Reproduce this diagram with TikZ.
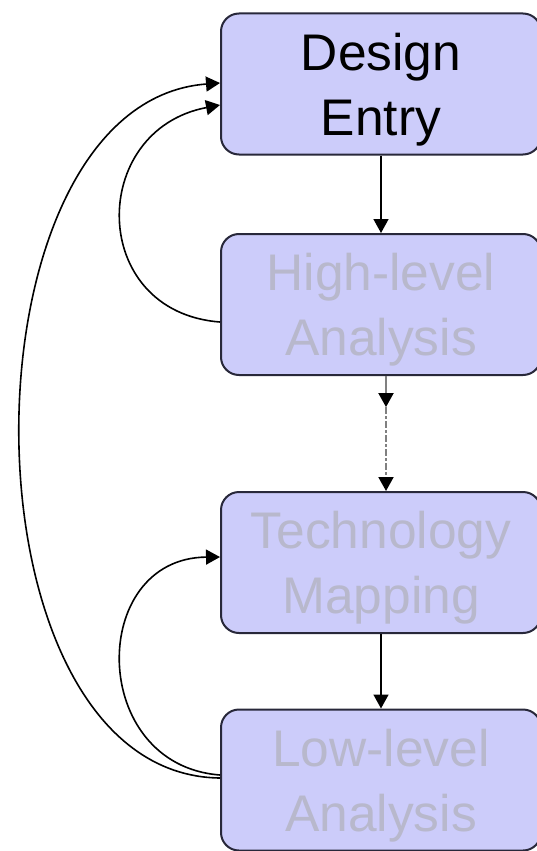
\documentclass[tikz,border=0pt]{standalone}
\usepackage{fontspec}
\setmainfont{Liberation Sans}
\usetikzlibrary{arrows.meta}
\definecolor{boxfill}{RGB}{204,204,250}
\definecolor{boxline}{RGB}{40,40,58}
\definecolor{fadedtext}{RGB}{184,184,204}
\begin{document}
\begin{tikzpicture}[x=1pt,y=-1pt,
		>={Triangle[length=14pt,width=15pt,color=black]},
		stagebox/.style={draw=boxline,line width=2pt,fill=boxfill,rounded corners=18pt,
			minimum width=320pt,minimum height=141pt,align=center,text depth=-3pt,
			font=\fontsize{51.5}{65}\selectfont},
		faded/.style={text=fadedtext},
		flowarrow/.style={->,line width=1.6pt,black}]
		
		\useasboundingbox (0,0) rectangle (536,851);
		
		\node[stagebox](de)  at (381,84)    {Design\\Entry};
		\node[stagebox,faded](hla) at (381,304.5) {High-level\\Analysis};
		\node[stagebox,faded](tm)  at (381,562.5) {Technology\\Mapping};
		\node[stagebox,faded](lla) at (381,780)   {Low-level\\Analysis};
		
		\draw[flowarrow]   (de) -- (hla);
		\path   ([xshift=5pt]hla.south) -- coordinate[pos=0.27] (gap) ([xshift=5pt]tm.north);
		\draw[flowarrow,draw=black!50,line width=2pt]   ([xshift=5pt]hla.south) -- (gap);
		\draw[flowarrow,draw=black!50,line width=2pt,dash pattern=on 7pt off 2pt on 3pt off 2pt]   (gap) -- ([xshift=5pt]tm.north);
		\draw[flowarrow]   (tm) -- (lla);
		
		% feedback loops
		\draw[flowarrow]   ([yshift=-17.5pt]hla.west) .. controls (88,312) and (88,130) .. ([yshift=-21pt]de.west);
		\draw[flowarrow]   ([yshift=5pt]lla.west) .. controls (88,765) and (88,558) .. ([yshift=5.5pt]tm.west);
		\draw[flowarrow]   ([yshift=2pt]lla.west) .. controls (-46,775) and (-46,103) .. ([yshift=1pt]de.west);
		\end{tikzpicture}
\end{document}
